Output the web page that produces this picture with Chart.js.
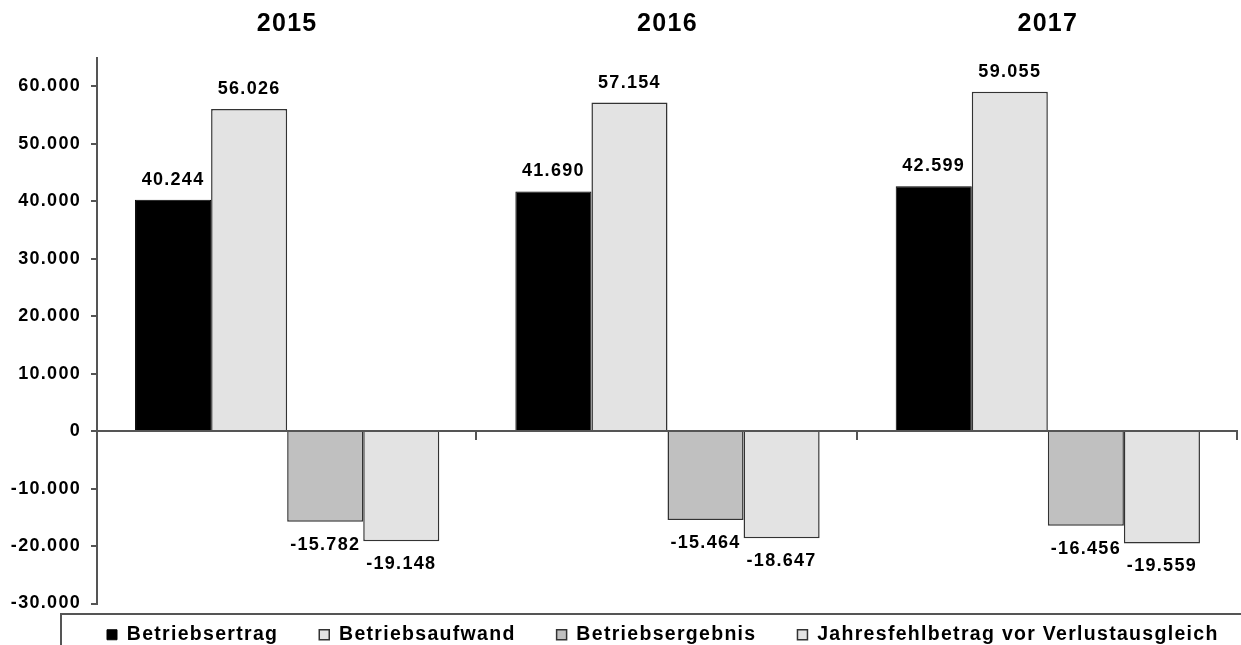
<!DOCTYPE html>
<html>
<head>
<meta charset="utf-8">
<script src="https://cdn.jsdelivr.net/npm/chart.js@4/dist/chart.umd.min.js"></script>
<style>
  html, body { margin: 0; padding: 0; background: #fff; }
  #wrap { width: 1241px; height: 645px; }
</style>
</head>
<body>
<div id="wrap"><canvas id="c" width="1241" height="645"></canvas></div>
<script>
const categories = ['2015', '2016', '2017'];
const betriebsertrag = [40244, 41690, 42599];
const betriebsaufwand = [56026, 57154, 59055];
const betriebsergebnis = [-15782, -15464, -16456];
const jahresfehlbetrag = [-19148, -18647, -19559];
const yTickValues = [-30000, -20000, -10000, 0, 10000, 20000, 30000, 40000, 50000, 60000];
const seriesNames = ['Betriebsertrag', 'Betriebsaufwand', 'Betriebsergebnis', 'Jahresfehlbetrag vor Verlustausgleich'];

const FONT = '"Liberation Sans", Arial, sans-serif';
const LS = '1.3px';

function fmt(v) {
  const s = Math.abs(v).toString().replace(/\B(?=(\d{3})+(?!\d))/g, '.');
  return (v < 0 ? '-' : '') + s;
}

const spacingPlugin = {
  id: 'spacing',
  beforeLayout(chart) { chart.ctx.letterSpacing = LS; },
  beforeDraw(chart) { chart.ctx.letterSpacing = LS; }
};

const legendShift = {
  id: 'legendShift',
  afterLayout(chart) {
    const lg = chart.legend;
    if (!lg) return;
    const dy = lg.top - 584;
    lg.top -= dy; lg.bottom -= dy;
    const w = lg.right - lg.left;
    lg.left = 66; lg.right = 66 + w;
  }
};

const decor = {
  id: 'decor',
  afterDraw(chart) {
    const ctx = chart.ctx;
    const x = chart.scales.x, y = chart.scales.y;
    const y0 = y.getPixelForValue(0);
    ctx.save();
    ctx.strokeStyle = '#555';
    ctx.lineWidth = 2;
    // category boundary tick marks on the zero line
    const n = categories.length;
    const step = (x.right - x.left) / n;
    ctx.beginPath();
    for (let i = 1; i <= n; i++) {
      const px = Math.round(x.left + step * i) - 1;
      ctx.moveTo(px, y0);
      ctx.lineTo(px, y0 + 9);
    }
    ctx.stroke();
    // legend frame
    ctx.strokeStyle = '#555';
    ctx.lineWidth = 2;
    ctx.beginPath();
    ctx.moveTo(chart.width, 614);
    ctx.lineTo(61, 614);
    ctx.lineTo(61, chart.height + 2);
    ctx.stroke();
    ctx.restore();
  }
};

const valueLabels = {
  id: 'valueLabels',
  afterDatasetsDraw(chart) {
    const ctx = chart.ctx;
    ctx.save();
    ctx.letterSpacing = LS;
    ctx.font = 'bold 18px ' + FONT;
    ctx.fillStyle = '#000';
    ctx.textAlign = 'center';
    ctx.textBaseline = 'middle';
    chart.data.datasets.forEach((ds, di) => {
      const meta = chart.getDatasetMeta(di);
      meta.data.forEach((el, i) => {
        const v = ds.data[i];
        const yy = v >= 0 ? el.y - 20 : el.y + 23;
        ctx.fillText(fmt(v), el.x, yy);
      });
    });
    ctx.restore();
  }
};

new Chart(document.getElementById('c'), {
  type: 'bar',
  data: {
    labels: categories,
    datasets: [
      { label: seriesNames[0], data: betriebsertrag, backgroundColor: '#000000', borderColor: '#000000', borderWidth: 1 },
      { label: seriesNames[1], data: betriebsaufwand, backgroundColor: '#e3e3e3', borderColor: '#333333', borderWidth: 1.5 },
      { label: seriesNames[2], data: betriebsergebnis, backgroundColor: '#c0c0c0', borderColor: '#333333', borderWidth: 1.5 },
      { label: seriesNames[3], data: jahresfehlbetrag, backgroundColor: '#e3e3e3', borderColor: '#333333', borderWidth: 1.5 }
    ]
  },
  options: {
    responsive: false,
    animation: false,
    devicePixelRatio: 1,
    categoryPercentage: 0.8,
    barPercentage: 1.0,
    layout: { padding: { left: 0, right: 3, top: 0, bottom: -29 } },
    plugins: {
      tooltip: { enabled: false },
      legend: {
        position: 'bottom',
        align: 'start',
        labels: {
          font: { family: FONT, size: 19.5, weight: 'bold' },
          color: '#000',
          boxWidth: 10,
          boxHeight: 10,
          padding: 41
        }
      }
    },
    scales: {
      x: {
        position: 'top',
        grid: { display: false, drawTicks: false },
        border: { display: false },
        ticks: { font: { family: FONT, size: 25, weight: 'bold' }, color: '#000', padding: 18 },
        afterFit(s) { s.height = 57.5; }
      },
      y: {
        min: -30000,
        max: 65000,
        afterBuildTicks(s) { s.ticks = yTickValues.map(v => ({ value: v })); },
        afterFit(s) { s.width = 97; },
        border: { display: true, color: '#555', width: 2 },
        grid: {
          color: (c) => (c.tick && c.tick.value === 0 ? '#555' : 'rgba(0,0,0,0)'),
          tickColor: '#555',
          lineWidth: 2,
          tickLength: 6
        },
        ticks: {
          font: { family: FONT, size: 18, weight: 'bold' },
          color: '#000',
          padding: 10,
          callback: (v) => fmt(v)
        }
      }
    }
  },
  plugins: [spacingPlugin, legendShift, valueLabels, decor]
});
</script>
</body>
</html>
